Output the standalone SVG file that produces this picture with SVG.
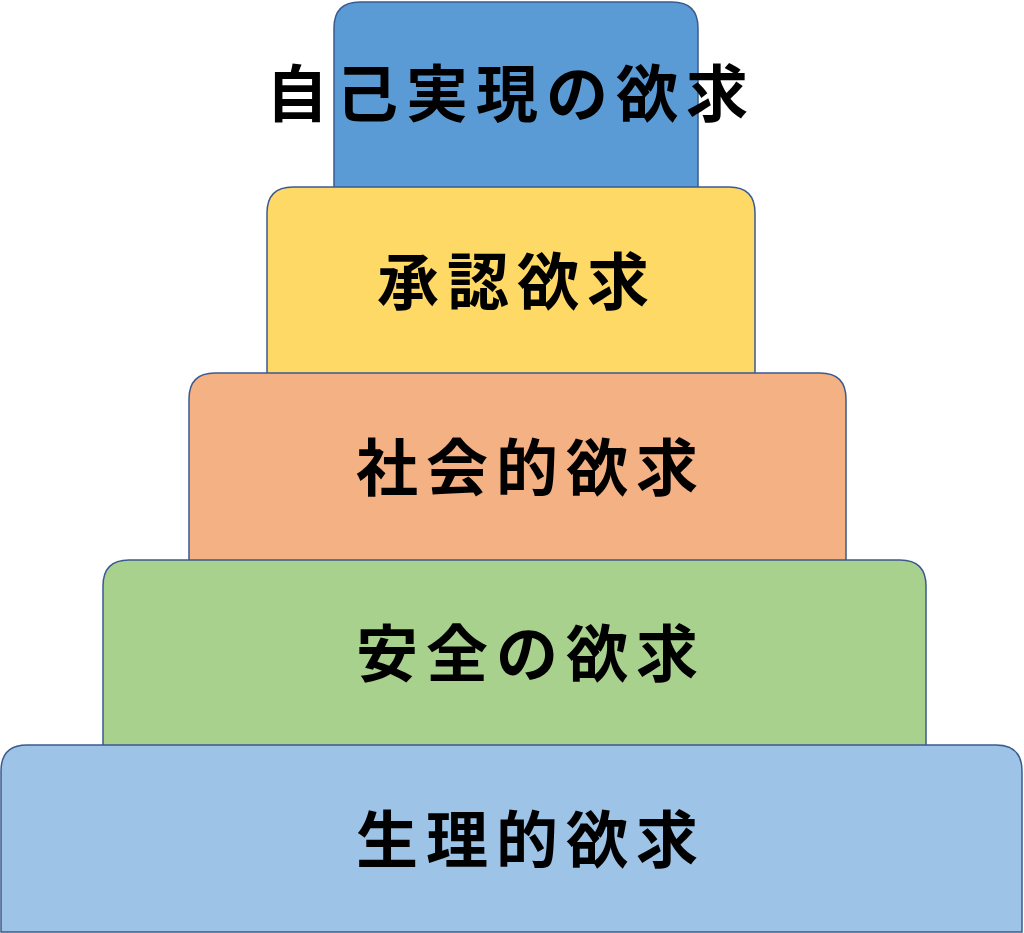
<svg xmlns="http://www.w3.org/2000/svg" width="1024" height="933" viewBox="0 0 1024 933">
<style>
.t{stroke:#3b5a8f;stroke-width:1.5}
.l{font-family:"Noto Sans CJK JP",sans-serif;font-weight:bold;font-size:62px;letter-spacing:8px;fill:#000;text-anchor:middle;dominant-baseline:central}
</style>
<rect width="1024" height="933" fill="#fff"/>
<g id="n1"><path class="t" fill="#5B9BD5" d="M334,190 V28 Q334,2 360,2 H672 Q698,2 698,28 V190 Z"/><text class="l" x="511" y="90">自己実現の欲求</text></g>
<g id="n2"><path class="t" fill="#FFD966" d="M267,376 V213 Q267,187 293,187 H729 Q755,187 755,213 V376 Z"/><text class="l" x="517" y="278">承認欲求</text></g>
<g id="n3"><path class="t" fill="#F4B183" d="M189,562 V399 Q189,373 215,373 H820 Q846,373 846,399 V562 Z"/><text class="l" x="531" y="464">社会的欲求</text></g>
<g id="n4"><path class="t" fill="#A9D18E" d="M103,748 V586 Q103,560 129,560 H900 Q926,560 926,586 V748 Z"/><text class="l" x="531" y="650">安全の欲求</text></g>
<g id="n5"><path class="t" fill="#9DC3E6" d="M1,932 V771 Q1,745 27,745 H996 Q1022,745 1022,771 V932 Z"/><text class="l" x="531" y="836">生理的欲求</text></g>
<g id="connectors"></g>
</svg>
